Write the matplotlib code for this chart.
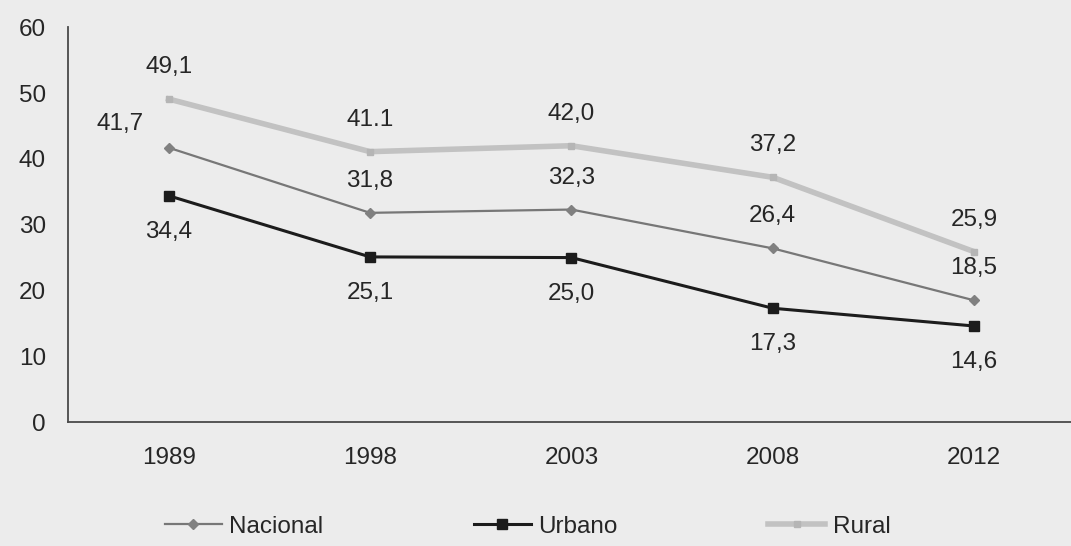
import matplotlib.pyplot as plt

# datos
anios = ["1989", "1998", "2003", "2008", "2012"]
nacional = [41.7, 31.8, 32.3, 26.4, 18.5]
urbano = [34.4, 25.1, 25.0, 17.3, 14.6]
rural = [49.1, 41.1, 42.0, 37.2, 25.9]
etq_nacional = ["41,7", "31,8", "32,3", "26,4", "18,5"]
etq_urbano = ["34,4", "25,1", "25,0", "17,3", "14,6"]
etq_rural = ["49,1", "41.1", "42,0", "37,2", "25,9"]

plt.rcParams['font.family'] = ['Liberation Sans', 'DejaVu Sans']
fondo = "#ececec"
texto = "#262626"

fig = plt.figure(figsize=(10.71, 5.46), dpi=100, facecolor=fondo)
ax = fig.add_axes([0.0635, 0.227, 0.94, 0.723], facecolor=fondo)
x = range(len(anios))

ax.plot(x, rural, color="#c2c2c2", lw=4, marker="s", ms=4,
        mfc="#b5b5b5", mec="#b5b5b5", label="Rural", zorder=2)
ax.plot(x, nacional, color="#777777", lw=1.6, marker="D", ms=5.5,
        mfc="#808080", mec="#808080", label="Nacional", zorder=3)
ax.plot(x, urbano, color="#1c1c1c", lw=2.2, marker="s", ms=7.5,
        mfc="#1c1c1c", mec="#1c1c1c", label="Urbano", zorder=4)

fs = 17.5
for i, (v, t) in enumerate(zip(rural, etq_rural)):
    ax.annotate(t, (i, v), xytext=(0, 23), textcoords="offset points",
                ha="center", va="center", fontsize=fs, color=texto)
for i, (v, t) in enumerate(zip(nacional, etq_nacional)):
    off = (-35, 17) if i == 0 else (0, 23)
    ax.annotate(t, (i, v), xytext=off, textcoords="offset points",
                ha="center", va="center", fontsize=fs, color=texto)
for i, (v, t) in enumerate(zip(urbano, etq_urbano)):
    ax.annotate(t, (i, v), xytext=(0, -26), textcoords="offset points",
                ha="center", va="center", fontsize=fs, color=texto)

ax.set_xlim(-0.5, 4.5)
ax.set_ylim(0, 60)
ax.set_yticks(range(0, 61, 10))
ax.set_xticks(list(x))
ax.set_xticklabels(anios)
ax.tick_params(axis="both", length=0, labelsize=fs, colors=texto)
ax.tick_params(axis="y", pad=16)
ax.tick_params(axis="x", pad=18)
for s in ["top", "right"]:
    ax.spines[s].set_visible(False)
for s in ["left", "bottom"]:
    ax.spines[s].set_color("#4a4a4a")
    ax.spines[s].set_linewidth(1.3)

h, l = ax.get_legend_handles_labels()
orden = [1, 2, 0]
fig.legend([h[k] for k in orden], [l[k] for k in orden], loc="center",
           bbox_to_anchor=(0.4925, 0.035), ncol=3, frameon=False,
           fontsize=fs, handlelength=2.35, handletextpad=0.3,
           columnspacing=6.2, labelcolor=texto)

fig.savefig("out.png", dpi=100, facecolor=fondo)
